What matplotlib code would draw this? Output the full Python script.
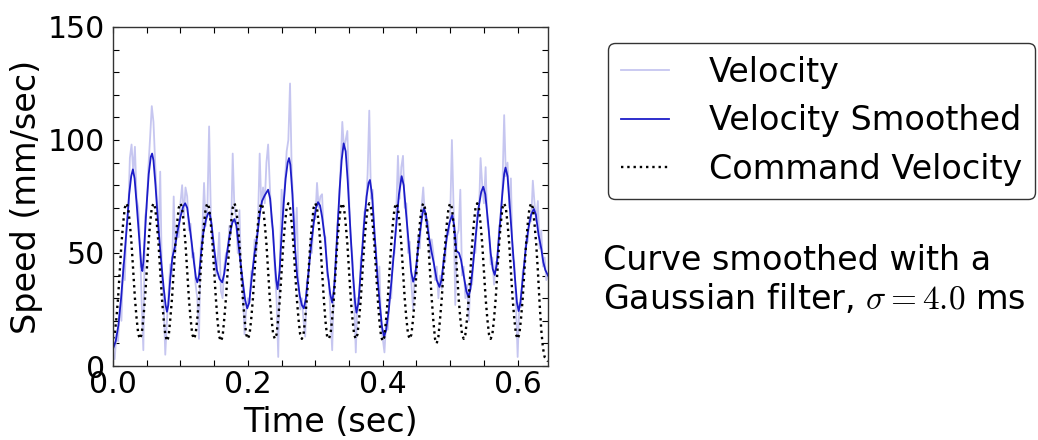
import numpy as np
import matplotlib
matplotlib.use('Agg')
import matplotlib.pyplot as plt

plt.rcParams['mathtext.fontset'] = 'cm'

# raw velocity, sampled every 2.5 ms
dt_raw = 0.0025
velocity = [
    5, 3, 14, 11, 26, 20, 45, 38, 62, 66,
    92, 98, 86, 97, 74, 70, 55, 28, 7, 66,
    70, 88, 101, 115, 108, 90, 74, 58, 86, 40,
    30, 5, 20, 33, 45, 40, 75, 50, 62, 57,
    72, 80, 66, 79, 75, 60, 63, 48, 50, 36,
    30, 12, 52, 60, 81, 62, 70, 106, 68, 55,
    50, 40, 45, 59, 33, 30, 44, 50, 48, 62,
    58, 94, 70, 66, 50, 69, 40, 34, 14, 25,
    30, 28, 42, 40, 56, 50, 64, 94, 70, 79,
    72, 90, 98, 80, 64, 60, 42, 30, 4, 47,
    78, 66, 82, 95, 100, 125, 86, 70, 55, 70,
    38, 25, 30, 20, 13, 38, 40, 55, 50, 68,
    65, 81, 70, 75, 76, 58, 57, 40, 38, 22,
    7, 35, 40, 62, 70, 88, 108, 96, 100, 104,
    75, 55, 48, 30, 6, 30, 28, 48, 50, 68,
    70, 85, 113, 74, 78, 55, 52, 36, 44, 18,
    12, 6, 20, 16, 32, 30, 48, 50, 68, 93,
    74, 88, 93, 70, 72, 50, 55, 36, 25, 42,
    40, 58, 52, 70, 79, 66, 62, 64, 48, 56,
    50, 38, 44, 30, 40, 34, 48, 46, 60, 58,
    66, 100, 70, 27, 58, 60, 78, 40, 44, 30,
    36, 20, 38, 36, 52, 50, 68, 66, 92, 80,
    72, 88, 64, 60, 45, 48, 36, 46, 44, 62,
    64, 80, 111, 84, 90, 70, 83, 48, 46, 28,
    4, 28, 26, 42, 44, 56, 55, 66, 64, 82,
    72, 64, 73, 52, 60, 44, 48, 38, 40,
]

# smoothed velocity (time in ms, value)
smooth_t = [0, 4, 8, 12, 16, 20, 24, 27, 29.5, 32, 35, 38, 40.5, 42, 43.5, 45, 47.5,
            50, 53, 56, 58, 60, 63, 66, 69, 72, 75, 78, 80, 82, 85, 88, 92, 96, 100,
            104, 107, 110, 113, 116.5, 120, 123, 125, 127.5, 131, 134, 138, 141, 143,
            146, 150, 154, 158, 162, 165, 169, 173, 177, 180, 183, 186, 189, 193, 196,
            199, 202, 206, 210, 214, 218, 221, 225, 230, 233, 237, 240, 242, 244, 247,
            250, 253, 256, 259, 261, 263, 266, 270, 273, 277, 280, 283, 286, 290, 294,
            298, 301, 304, 307, 310, 314, 318, 322, 325, 328, 332, 336, 339, 342, 345,
            348, 352, 356, 359, 361, 364, 368, 372, 376, 379, 381, 384, 388, 392, 396,
            399, 402, 405, 409, 413, 417, 421, 424, 428, 431, 435, 439, 442, 445, 448,
            452, 456, 459, 461, 464, 468, 472, 476, 480, 484, 487, 491, 495, 499, 503,
            506, 509, 513, 516, 520, 524, 527, 530, 534, 538, 542, 546, 549, 552, 556,
            560, 563, 566, 569, 573, 577, 580, 582, 585, 588, 592, 596, 599, 601.5, 604,
            608, 612, 616, 620, 624, 627, 631, 635, 638, 641, 645]
smooth_v = [7.5, 11, 18, 30, 45, 60, 76, 84, 87, 83, 72, 60, 50, 44, 42, 46, 59,
            72, 85, 92.5, 94, 91, 80, 67, 55, 44.5, 35, 27, 24, 27, 39, 48, 53, 60, 66,
            70.5, 72, 70, 63, 55, 46, 39, 37, 40, 51, 59, 65, 67.5, 68,
            63, 52, 42.5, 38.5, 37, 41, 50, 58, 63.5, 65, 62, 54, 46, 36, 29,
            25.5, 28, 40, 50, 58, 68, 73, 75.5, 78, 74, 60, 46, 38, 34, 42,
            58, 72, 83, 90, 92, 89, 76, 52, 40, 31, 27, 25.5, 30, 42, 54,
            64, 70, 72.5, 71, 66, 57, 42, 32, 28, 35, 56, 78, 91, 98.5, 95,
            82, 60, 40, 28, 23.6, 28, 45, 62, 75, 81, 82.3, 76, 58, 40, 26,
            17, 13, 16, 25, 38, 52, 66, 76, 84, 80, 66, 52, 42, 37.3, 40,
            51, 61, 67.5, 69.8, 67, 58, 51, 45, 38, 35, 38, 48, 57, 63.5, 66.8,
            62, 51, 50, 47, 40, 33, 30.7, 34, 45, 58, 70, 77, 79.3, 76, 64,
            50, 43, 40.3, 45, 60, 75, 85, 87.8, 84, 72, 55, 39, 28, 24.3, 28,
            40, 52, 61, 67, 69.5, 67, 58, 52, 46, 42.5, 40]

# command velocity, sampled every 2.5 ms
dt_cmd = 0.0025
command = [
    12, 14, 21, 30, 42, 54, 63, 70, 72, 70, 63, 54, 42, 30, 21, 14,
    12, 14, 21, 30, 42, 54, 63, 70, 72, 70, 63, 54, 42, 30, 21, 14,
    11, 13, 21, 30, 42, 54, 63, 70, 72, 70, 63, 54, 42, 30, 21, 14,
    12, 14, 21, 30, 42, 54, 63, 70, 72, 70, 63, 54, 42, 30, 20, 13,
    11, 13, 21, 30, 42, 54, 63, 70, 72, 70, 63, 54, 42, 30, 21, 14,
    12, 14, 21, 30, 42, 54, 63, 70, 72, 70, 63, 54, 42, 30, 21, 14,
    12, 14, 21, 30, 42, 54, 63, 70, 72, 70, 63, 54, 42, 30, 21, 14,
    12, 14, 21, 30, 42, 54, 63, 70, 72, 70, 63, 54, 42, 30, 20, 13,
    12, 14, 21, 30, 42, 54, 63, 70, 72, 70, 63, 54, 42, 30, 21, 14,
    12, 14, 21, 30, 42, 54, 63, 70, 72, 70, 63, 54, 42, 30, 20, 13,
    11, 13, 21, 30, 42, 54, 63, 70, 72, 70, 63, 54, 42, 30, 21, 14,
    12, 14, 21, 30, 42, 54, 63, 70, 72, 70, 63, 54, 42, 30, 20, 12,
    10, 13, 21, 30, 42, 54, 63, 70, 72, 70, 63, 54, 42, 30, 21, 14,
    12, 14, 21, 30, 42, 54, 63, 70, 72, 70, 63, 54, 42, 30, 21, 14,
    12, 14, 21, 30, 42, 54, 63, 70, 72, 70, 63, 54, 42, 30, 21, 14,
    12, 14, 21, 30, 42, 54, 63, 70, 72, 70, 63, 54, 42, 28, 16, 8,
    4, 3, 2,
]

xticks = [0.0, 0.05, 0.1, 0.15, 0.2, 0.25, 0.3, 0.35, 0.4, 0.45, 0.5, 0.55, 0.6]
xticklabels = ['0.0', '', '', '', '0.2', '', '', '', '0.4', '', '', '', '0.6']
yticks = list(range(0, 151, 10))
yticklabels = [str(v) if v % 50 == 0 else '' for v in yticks]

t_raw = np.arange(len(velocity)) * dt_raw
t_cmd = np.arange(len(command)) * dt_cmd
t_smooth = np.array(smooth_t) / 1000.0

fig = plt.figure(figsize=(10.38, 4.4), dpi=100)
ax = fig.add_axes([113 / 1038, 1 - 366 / 440, 435 / 1038, 339 / 440])

l1, = ax.plot(t_raw, velocity, color='#c6c6f0', lw=1.3, label='Velocity')
l2, = ax.plot(t_smooth, smooth_v, color='#1c1cc8', lw=1.3, label='Velocity Smoothed')
l3, = ax.plot(t_cmd, command, color='black', ls=':', lw=1.7, label='Command Velocity')

ax.set_xlim(0, 0.645)
ax.set_ylim(0, 150)
ax.set_xticks(xticks)
ax.set_xticklabels(xticklabels)
ax.set_yticks(yticks)
ax.set_yticklabels(yticklabels)
ax.tick_params(direction='in', top=True, right=True, length=4, width=0.8,
               labelsize=21.5)
ax.tick_params(axis='x', pad=3)
ax.tick_params(axis='y', pad=6)
for s in ax.spines.values():
    s.set_color('#333333')
    s.set_linewidth(1.0)

ax.set_xlabel('Time (sec)', fontsize=24, labelpad=5)
ax.set_ylabel('Speed (mm/sec)', fontsize=24, labelpad=3)

leg = fig.legend(handles=[l1, l2, l3], loc='upper left',
                 bbox_to_anchor=(608 / 1038, 1 - 43 / 440), borderaxespad=0,
                 fontsize=24, handlelength=1.45, handletextpad=1.2,
                 labelspacing=0.47, borderpad=0.38, fancybox=True, framealpha=1)
leg.get_frame().set_edgecolor('#333333')
leg.get_frame().set_linewidth(1.0)

fig.text(603 / 1038, 1 - 244 / 440,
         'Curve smoothed with a\nGaussian filter, $\\sigma=4.0$ ms',
         fontsize=24, va='top', ha='left')

fig.savefig('out.png', dpi=100)
